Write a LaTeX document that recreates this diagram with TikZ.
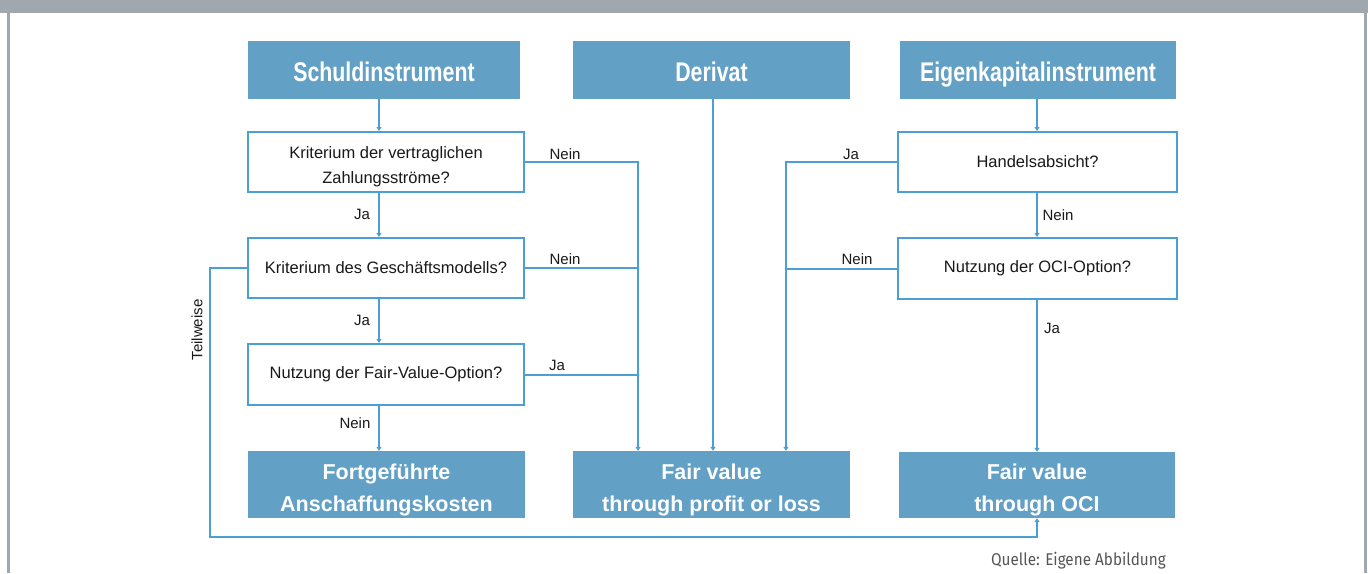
\documentclass[tikz,border=0pt]{standalone}
\usepackage{fontspec}
\setmainfont{Liberation Sans}
\newfontfamily\headfont{Liberation Sans}[FakeStretch=0.79]
\newfontfamily\notefont{Fira Sans}[FakeStretch=0.9]
\usetikzlibrary{arrows.meta}
\definecolor{framegray}{HTML}{A0A7AF}
\definecolor{boxblue}{HTML}{62A0C6}
\definecolor{lineblue}{HTML}{4A9FD6}
\definecolor{notegray}{HTML}{555555}
% extra room above the first line pushes two-line texts down a little
\newcommand{\toproom}[1]{\rule{0pt}{#1}}
\tikzset{
  headbox/.style={fill=boxblue, inner sep=0pt, text=white, align=center,
    text height=23pt, text depth=0pt,
    font=\headfont\fontsize{27}{30}\bfseries\selectfont},
  resbox/.style={fill=boxblue, inner sep=0pt, text=white, align=center,
    font=\fontsize{21.5}{32}\bfseries\selectfont},
  askbox/.style={draw=lineblue, line width=2pt, fill=white, inner sep=0pt,
    align=center, text=black!90, font=\fontsize{16.5}{25}\selectfont},
  flow/.style={draw=lineblue, line width=2pt,
    -{Triangle[length=4pt,width=5pt]}},
  plain/.style={draw=lineblue, line width=2pt},
  lbl/.style={inner sep=0pt, text=black!90, font=\fontsize{15}{18}\selectfont},
}
\begin{document}
\begin{tikzpicture}[x=1pt,y=-1pt]
\useasboundingbox (0,0) rectangle (1368,573);
% page frame
\fill[framegray] (0,0) rectangle (1368,13);
\fill[framegray] (6.5,13) rectangle (9.5,573);
\fill[framegray] (1363.5,13) rectangle (1366.5,573);

% instrument types
\node[headbox, minimum width=272pt, minimum height=58pt] (s) at (384,70) {Schuldinstrument};
\node[headbox, minimum width=277pt, minimum height=58pt] (d) at (711.5,70) {Derivat};
\node[headbox, minimum width=276pt, minimum height=58pt] (e) at (1038,70) {Eigenkapitalinstrument};

% questions, debt instruments
\node[askbox, minimum width=276pt, minimum height=60pt] (q1) at (386,162) {\toproom{22pt}Kriterium der vertraglichen\\Zahlungsströme?};
\node[askbox, minimum width=276pt, minimum height=60pt] (q2) at (386,268) {Kriterium des Geschäftsmodells?};
\node[askbox, minimum width=276pt, minimum height=61pt] (q3) at (386,374.5) {Nutzung der Fair-Value-Option?};

% questions, equity instruments
\node[askbox, minimum width=279pt, minimum height=60pt] (h1) at (1037.5,162) {Handelsabsicht?};
\node[askbox, minimum width=279pt, minimum height=61pt] (h2) at (1037.5,268.5) {Nutzung der OCI-Option?};

% measurement categories
\node[resbox, minimum width=277pt, minimum height=67pt] (r1) at (386.5,484.5) {\toproom{26pt}Fortgeführte\\Anschaffungskosten};
\node[resbox, minimum width=277pt, minimum height=67pt] (r2) at (711.5,484.5) {\toproom{26pt}Fair value\\through profit or loss};
\node[resbox, minimum width=276pt, minimum height=66pt] (r3) at (1037,485) {\toproom{26pt}Fair value\\through OCI};

% vertical lanes
\coordinate (laneL) at (379,0);
\coordinate (busL) at (638,0);
\coordinate (laneD) at (713,0);
\coordinate (busR) at (786,0);
\coordinate (laneR) at (1037,0);
\coordinate (loopL) at (210,537);

% debt instrument path
\draw[flow] (s.south -| laneL) -- (q1.north -| laneL);
\draw[flow] (q1.south -| laneL) -- (q2.north -| laneL);
\draw[flow] (q2.south -| laneL) -- (q3.north -| laneL);
\draw[flow] (q3.south -| laneL) -- (r1.north -| laneL);
\draw[flow] (q1.east) -- (q1.east -| busL) -- (r2.north -| busL);
\draw[plain] (q2.east) -- (q2.east -| busL);
\draw[plain] (q3.east) -- (q3.east -| busL);
\draw[flow] (q2.west) -| (loopL) -| (r3.south);

% derivatives
\draw[flow] (d.south -| laneD) -- (r2.north -| laneD);

% equity instrument path
\draw[flow] (e.south -| laneR) -- (h1.north -| laneR);
\draw[flow] (h1.south -| laneR) -- (h2.north -| laneR);
\draw[flow] (h2.south -| laneR) -- (r3.north -| laneR);
\draw[flow] (h1.west) -- (h1.west -| busR) -- (r2.north -| busR);
\draw[plain] (h2.west) -- (h2.west -| busR);

% branch labels
\node[lbl] (l1) at (565,154) {Nein};
\node[lbl] (l2) at (565,259) {Nein};
\node[lbl] (l3) at (557,365) {Ja};
\node[lbl] (l4) at (362,214) {Ja};
\node[lbl] (l5) at (362,320) {Ja};
\node[lbl] (l6) at (355,423) {Nein};
\node[lbl] (l7) at (851,154) {Ja};
\node[lbl] (l8) at (857,259) {Nein};
\node[lbl] (l9) at (1058,215) {Nein};
\node[lbl] (l10) at (1052,328) {Ja};
\node[lbl, rotate=90] (l11) at (197,330) {Teilweise};

% source note
\node[anchor=base east, inner sep=0pt, text=notegray,
  font=\notefont\fontsize{17}{20}\selectfont] (src) at (1166,565) {Quelle: Eigene Abbildung};
\end{tikzpicture}
\end{document}
